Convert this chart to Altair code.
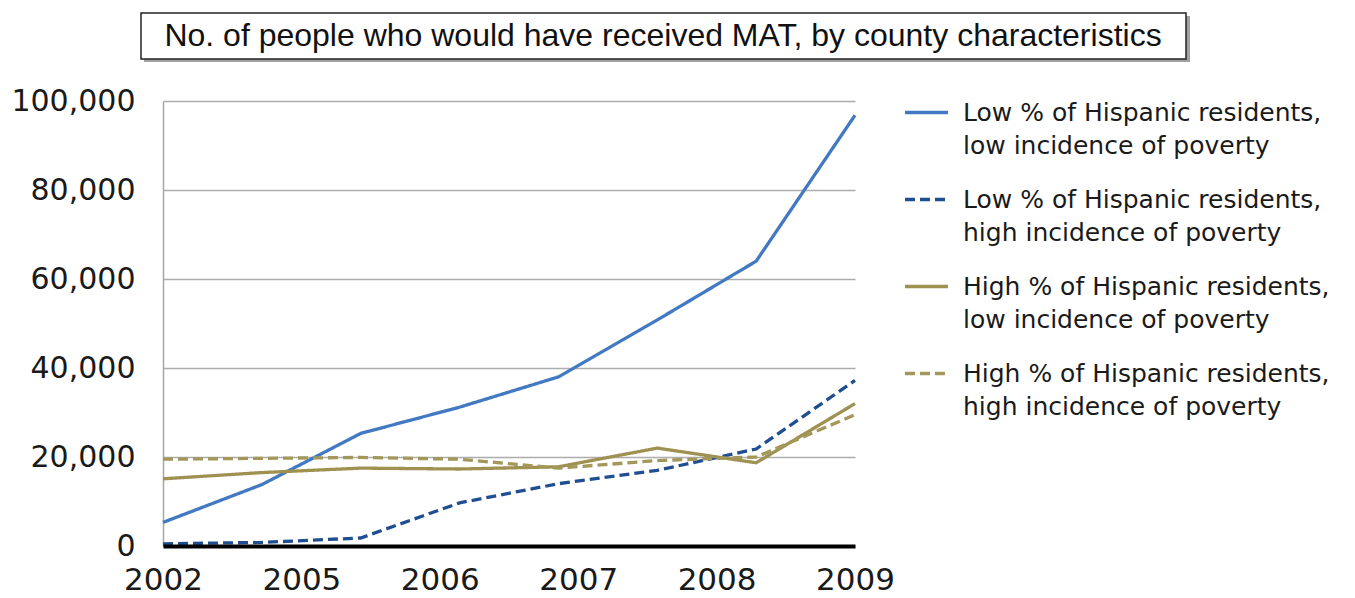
import altair as alt
import pandas as pd

# ---- data ----
title_text = "No. of people who would have received MAT, by county characteristics"
tick_labels = ["2002", "2005", "2006", "2007", "2008", "2009"]
point_index = [0, 1, 2, 3, 4, 5, 6, 7]

series_names = [
    "Low % of Hispanic residents,|low incidence of poverty",
    "Low % of Hispanic residents,|high incidence of poverty",
    "High % of Hispanic residents,|low incidence of poverty",
    "High % of Hispanic residents,|high incidence of poverty",
]
low_hisp_low_pov = [5300, 13800, 25300, 31200, 38000, 50800, 64000, 96800]
low_hisp_high_pov = [500, 800, 1800, 9700, 14000, 17000, 21800, 37200]
high_hisp_low_pov = [15100, 16500, 17500, 17300, 17800, 22000, 18700, 32000]
high_hisp_high_pov = [19500, 19700, 19900, 19500, 17500, 19200, 20000, 29500]

series_values = [low_hisp_low_pov, low_hisp_high_pov, high_hisp_low_pov, high_hisp_high_pov]
colors = ["#4279C2", "#1F4E91", "#9E9152", "#A39759"]
dashes = [[10, 5], [10, 5]]
dashes = [[1, 0], [10, 5], [1, 0], [10, 5]]

rows = []
for name, vals in zip(series_names, series_values):
    for i, v in zip(point_index, vals):
        rows.append({"series": name, "idx": i, "value": v})
df = pd.DataFrame(rows)

n_max = point_index[-1]
tick_vals = [i * n_max / (len(tick_labels) - 1) for i in range(len(tick_labels))]
step = n_max / (len(tick_labels) - 1)
label_expr = "[" + ",".join("'%s'" % t for t in tick_labels) + "][round(datum.value/%s)]" % step

legend = alt.Legend(
    title=None,
    orient="none",
    legendX=740,
    legendY=-12,
    labelExpr="split(datum.label, '|')",
    labelFont="DejaVu Sans",
    labelFontSize=25,
    labelColor="#1a1a1a",
    labelLimit=600,
    labelOffset=13,
    rowPadding=17,
    symbolType="stroke",
    symbolSize=1850,
    symbolStrokeWidth=3.3,
    padding=0,
)

lines = alt.Chart(df).mark_line(strokeWidth=3.3).encode(
    x=alt.X(
        "idx:Q",
        scale=alt.Scale(domain=[0, n_max], nice=False, zero=False),
        axis=alt.Axis(
            values=tick_vals,
            labelExpr=label_expr,
            title=None,
            grid=False,
            ticks=False,
            tickSize=0,
            labelPadding=19,
            labelFont="DejaVu Sans",
            labelFontSize=31,
            labelColor="#1a1a1a",
            labelFlush=False,
            labelOverlap=False,
            domainColor="#000000",
            domainWidth=4,
            zindex=1,
        ),
    ),
    y=alt.Y(
        "value:Q",
        scale=alt.Scale(domain=[0, 100000], nice=False),
        axis=alt.Axis(
            values=[0, 20000, 40000, 60000, 80000, 100000],
            format=",.0f",
            title=None,
            ticks=False,
            tickSize=0,
            labelPadding=28,
            labelFont="DejaVu Sans",
            labelFontSize=30,
            labelColor="#1a1a1a",
            domainColor="#A6A6A6",
            domainWidth=1.5,
            gridColor="#ADADAD",
            gridWidth=1.5,
        ),
    ),
    color=alt.Color(
        "series:N",
        scale=alt.Scale(domain=series_names, range=colors),
        sort=series_names,
        legend=legend,
    ),
    strokeDash=alt.StrokeDash(
        "series:N",
        scale=alt.Scale(domain=series_names, range=dashes),
        sort=series_names,
        legend=legend,
    ),
)

title_df = pd.DataFrame({"t": [title_text]})
shadow = alt.Chart(title_df).mark_rect(fill="#8a8a8a", opacity=0.8).encode(
    x=alt.value(-19), x2=alt.value(1027), y=alt.value(-85), y2=alt.value(-39)
)
box = alt.Chart(title_df).mark_rect(fill="white", stroke="#222222", strokeWidth=1.5).encode(
    x=alt.value(-22), x2=alt.value(1023), y=alt.value(-88), y2=alt.value(-42)
)
title = alt.Chart(title_df).mark_text(
    font="Liberation Sans", fontSize=32, color="#111111", align="center", baseline="middle"
).encode(x=alt.value(500), y=alt.value(-65), text="t:N")

chart = (
    alt.layer(lines, shadow, box, title)
    .properties(
        width=692,
        height=445,
        padding={"left": 163, "top": 101, "right": 500, "bottom": 52},
        autosize=alt.AutoSizeParams(type="none"),
        background="white",
    )
    .configure(
        style={"guide-label": {"lineHeight": 33}},
        view={"strokeWidth": 0},
    )
)

chart.save("out.html", embed_options={"renderer": "svg", "actions": False})
